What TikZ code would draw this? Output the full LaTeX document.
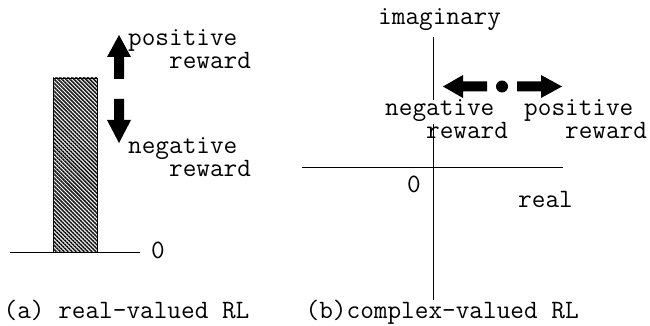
\documentclass[tikz,border=0pt]{standalone}
\usetikzlibrary{patterns.meta}
\begin{document}
\begin{tikzpicture}[x=1pt,y=-1pt,
  lbl/.style={anchor=base west,inner sep=0pt,font=\fontsize{26.5}{21.5}\selectfont\ttfamily},
  twoline/.style={lbl,align=left},
  axis/.style={line width=0.9pt},
  blk/.style={fill=black}]
\useasboundingbox (0,0) rectangle (650,326);
% ---------- (a) real-valued RL ----------
\fill[pattern={Lines[angle=-45,distance=2.8pt,line width=1.6pt]},pattern color=black!90] (53,78) rectangle (97,252);
\draw[line width=0.8pt] (53,252) -- (53,78) -- (97,78) -- (97,252);
\coordinate (bl) at (10,252);
\coordinate (br) at (140,252);
\draw[axis] (bl) -- (br);
\node[lbl] (zeroa) at (151,258) {0};
% up arrow
\fill[blk] (114,79) -- (114,57) -- (107,57) -- (119,35) -- (131,57) -- (124,57) -- (124,79) -- cycle;
% down arrow
\fill[blk] (114,99) -- (124,99) -- (124,120) -- (131,120) -- (119,143) -- (107,120) -- (114,120) -- cycle;
% (base anchor of a two-line node = baseline of its last line)
\node[twoline] (pa) at (128,68.5) {positive\\\phantom{pos}reward};
\node[twoline] (na) at (128,176.5) {negative\\\phantom{neg}reward};
\node[lbl] (capa) at (3.5,318) {(a) real-valued RL};
% ---------- (b) complex-valued RL ----------
\coordinate (vt) at (433,37);
\coordinate (vm1) at (433,100);
\coordinate (vm2) at (433,124);
\coordinate (vb) at (433,300);
\coordinate (hl) at (302,167);
\coordinate (hr) at (563,167);
\draw[axis] (vt) -- (vm1);
\draw[axis] (vm2) -- (vb);
\draw[axis] (hl) -- (hr);
\node[lbl] (imag) at (378,25) {imaginary};
\node[lbl] (zerob) at (407,192) {0};
\node[lbl] (realb) at (518,207) {real};
% left arrow
\fill[blk] (487,81.5) -- (463,81.5) -- (463,75) -- (443,86.5) -- (463,98) -- (463,91.5) -- (487,91.5) -- cycle;
% dot
\fill[blk] (502,86.5) circle[radius=6];
% right arrow
\fill[blk] (517,81.5) -- (541,81.5) -- (541,75) -- (562,86.5) -- (541,98) -- (541,91.5) -- (517,91.5) -- cycle;
\node[twoline] (nb) at (385,138.5) {negative\\\phantom{neg}reward};
\node[twoline] (pb) at (524,138.5) {positive\\\phantom{pos}reward};
\node[lbl] (capb) at (305.5,318) {(b)complex-valued RL};
\end{tikzpicture}
\end{document}
